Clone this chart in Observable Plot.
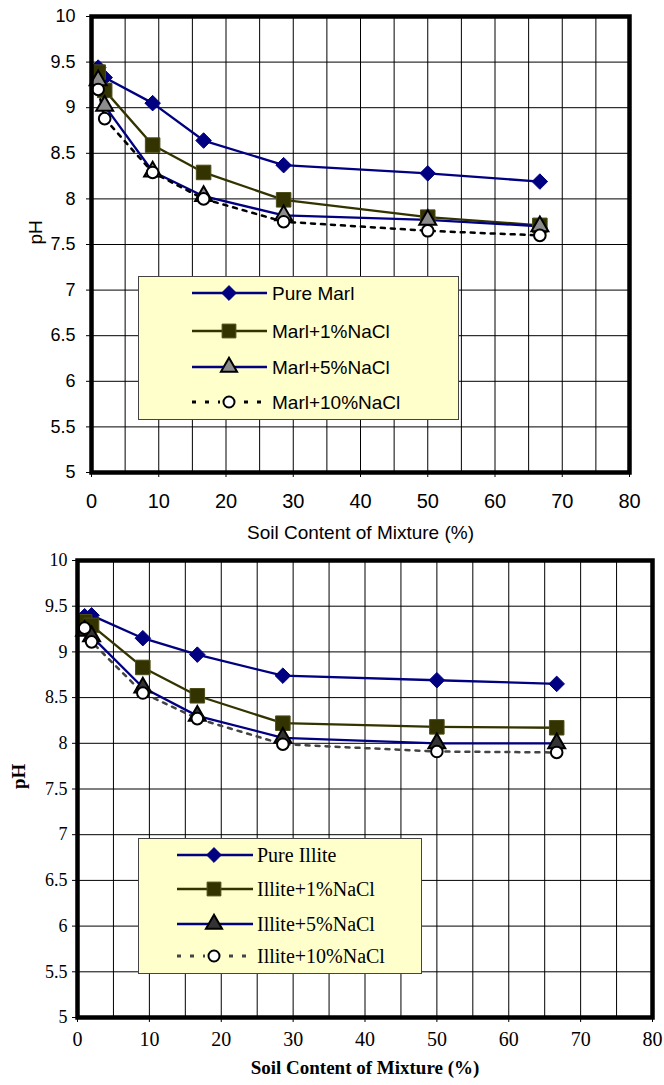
<!DOCTYPE html>
<html><head><meta charset="utf-8">
<script src="https://cdn.jsdelivr.net/npm/d3@7"></script>
<script src="https://cdn.jsdelivr.net/npm/@observablehq/plot@0.6"></script>
<style>
body{margin:0;background:#fff;width:664px;height:1085px;position:relative;overflow:hidden}
.chart{position:absolute;left:0}
.legend{position:absolute}
</style></head><body>
<div id="c1" class="chart" style="top:0"></div>
<div id="c2" class="chart" style="top:545px"></div>
<svg id="lg1" class="legend" style="left:0;top:0" width="664" height="545"></svg>
<svg id="lg2" class="legend" style="left:0;top:545px" width="664" height="540"></svg>
<script>
// ---- data ----
const soilContent = [0.99, 1.96, 9.09, 16.67, 28.57, 50, 66.67];

const marlNames = ["Pure Marl", "Marl+1%NaCl", "Marl+5%NaCl", "Marl+10%NaCl"];
const marlPure  = [9.44, 9.33, 9.05, 8.64, 8.37, 8.28, 8.19];
const marl1     = [9.39, 9.19, 8.59, 8.29, 7.99, 7.80, 7.71];
const marl5     = [9.30, 9.02, 8.30, 8.03, 7.82, 7.77, 7.70];
const marl10    = [9.20, 8.88, 8.29, 8.00, 7.75, 7.65, 7.60];

const illiteNames = ["Pure Illite", "Illite+1%NaCl", "Illite+5%NaCl", "Illite+10%NaCl"];
const illitePure = [9.39, 9.40, 9.15, 8.97, 8.74, 8.69, 8.65];
const illite1    = [9.33, 9.29, 8.83, 8.52, 8.22, 8.18, 8.17];
const illite5    = [9.23, 9.17, 8.61, 8.30, 8.06, 8.00, 8.00];
const illite10   = [9.26, 9.11, 8.55, 8.27, 7.99, 7.91, 7.90];

const xTicks = [0, 10, 20, 30, 40, 50, 60, 70, 80];
const yTicks = [5, 5.5, 6, 6.5, 7, 7.5, 8, 8.5, 9, 9.5, 10];
const xGrid = d3.range(0, 81, 5);
const xTitle = "Soil Content of Mixture (%)";
const yTitle = "pH";

// ---- styles ----
function styles(triFill, dashColor) {
  return [
    {stroke:"#000080", dash:null, symbol:"diamond2", fill:"#000080", mstroke:"#000080", r:7, msw:1},
    {stroke:"#333300", dash:null, symbol:"square", fill:"#333300", mstroke:"#4d4d1a", r:8.2, msw:1},
    {stroke:"#000080", dash:null, symbol:"triangle", fill:triFill, mstroke:"#000", r:6.3, msw:2},
    {stroke:dashColor, dash:"4,6", symbol:"circle", fill:"#fff", mstroke:"#000", r:5.8, msw:2}
  ];
}

function build(el, cfg) {
  const sty = cfg.styles;
  const marks = [
    Plot.gridX(xGrid, {stroke:"#000", strokeOpacity:1, strokeWidth:1}),
    Plot.gridY(yTicks, {stroke:"#000", strokeOpacity:1, strokeWidth:1})
  ];
  cfg.series.forEach((vals, i) => {
    const rows = soilContent.map((x, j) => ({x, y: vals[j]}));
    const s = sty[i];
    marks.push(Plot.line(rows, {x:"x", y:"y", stroke:s.stroke, strokeWidth:s.dash ? 2.5 : 2.3, strokeDasharray:s.dash, curve:"linear"}));
  });
  cfg.series.forEach((vals, i) => {
    const rows = soilContent.map((x, j) => ({x, y: vals[j]}));
    const s = sty[i];
    marks.push(Plot.dot(rows, {x:"x", y:"y", symbol:()=>s.symbol, r:s.r, fill:s.fill, stroke:s.mstroke, strokeWidth:s.msw}));
  });
  marks.push(Plot.frame({stroke:"#000", strokeWidth:4.5}));
  marks.push(Plot.axisY(yTicks, {tickSize:5, tickPadding:cfg.yPad, fontSize:cfg.yFont, fontFamily:cfg.font, tickFormat:d=>String(d), label:null, stroke:"#000"}));
  marks.push(Plot.axisX(xTicks, {tickSize:5, tickPadding:cfg.xPad, fontSize:cfg.xFont, fontFamily:cfg.font, tickFormat:d=>String(d), label:null, stroke:"#000"}));
  marks.push(Plot.text([xTitle], {text:d=>d, frameAnchor:"bottom", dy:cfg.titleDy, fontSize:cfg.titleFont, fontFamily:cfg.font, fontWeight:cfg.bold, lineAnchor:"middle", fill:"#000"}));
  marks.push(Plot.text([yTitle], {text:d=>d, frameAnchor:"left", dx:cfg.yTitleDx, rotate:-90, fontSize:cfg.titleFont, fontFamily:cfg.font, fontWeight:cfg.bold, fill:"#000"}));
  const p = Plot.plot({
    width:664, height:cfg.height,
    marginLeft:cfg.ml, marginRight:cfg.mr, marginTop:cfg.mt, marginBottom:cfg.mb,
    x:{domain:[0,80], axis:null},
    y:{domain:[5,10], axis:null},
    style:{background:"transparent", color:"#000", fontFamily:cfg.font},
    marks
  });
  document.getElementById(el).appendChild(p);
}

function legend(id, names, sty, box, font, fontSize) {
  const svg = d3.select("#" + id);
  svg.append("rect").attr("x", box.x + 0.5).attr("y", box.y + 0.5).attr("width", box.w).attr("height", box.h)
     .attr("fill", "#ffffcc").attr("stroke", "#444").attr("stroke-width", 1);
  names.forEach((n, i) => {
    const y = box.rows[i], s = sty[i];
    svg.append("line").attr("x1", box.lx1).attr("x2", box.lx2).attr("y1", y).attr("y2", y)
      .attr("stroke", s.stroke).attr("stroke-width", s.dash ? 2.8 : 2.3).attr("stroke-dasharray", s.dash ? "4,9" : null);
    const type = {diamond2:d3.symbolDiamond2, square:d3.symbolSquare, triangle:d3.symbolTriangle, circle:d3.symbolCircle}[s.symbol];
    const rr = s.r * 0.95;
    if (s.dash) svg.append("rect").attr("x", box.mx - 9).attr("y", y - 3).attr("width", 18).attr("height", 6).attr("fill", "#ffffcc");
    svg.append("path").attr("d", d3.symbol(type, Math.PI * rr * rr)())
      .attr("transform", `translate(${box.mx},${y})`)
      .attr("fill", s.fill).attr("stroke", s.mstroke).attr("stroke-width", s.msw);
    svg.append("text").attr("x", box.tx).attr("y", y).attr("dy", "0.35em")
      .attr("font-family", font).attr("font-size", fontSize).attr("fill", "#000").text(n);
  });
}

const arial = "'Liberation Sans', Arial, sans-serif";
const times = "'Liberation Serif', 'Times New Roman', serif";

const sty1 = styles("#8c8c8c", "#000");
const sty2 = styles("#333", "#444");

build("c1", {
  series:[marlPure, marl1, marl5, marl10], styles:sty1,
  height:545, ml:91, mr:35, mt:16, mb:73,
  font:arial, yFont:18, xFont:20, yPad:11, xPad:16, titleFont:19, titleDy:60, yTitleDx:-56, bold:"normal"
});
build("c2", {
  series:[illitePure, illite1, illite5, illite10], styles:sty2,
  height:540, ml:77, mr:12, mt:15, mb:68,
  font:times, yFont:18, xFont:20, yPad:5, xPad:9, titleFont:19, titleDy:50, yTitleDx:-59, bold:"bold"
});

legend("lg1", marlNames, sty1, {x:138, y:276, w:320, h:143, rows:[293, 331, 367, 402], lx1:192, lx2:267, mx:229, tx:272}, arial, 19);
legend("lg2", illiteNames, sty2, {x:138, y:293, w:283, h:135, rows:[310, 344, 379, 411], lx1:177, lx2:253, mx:214, tx:257}, times, 20);
</script>
</body></html>
